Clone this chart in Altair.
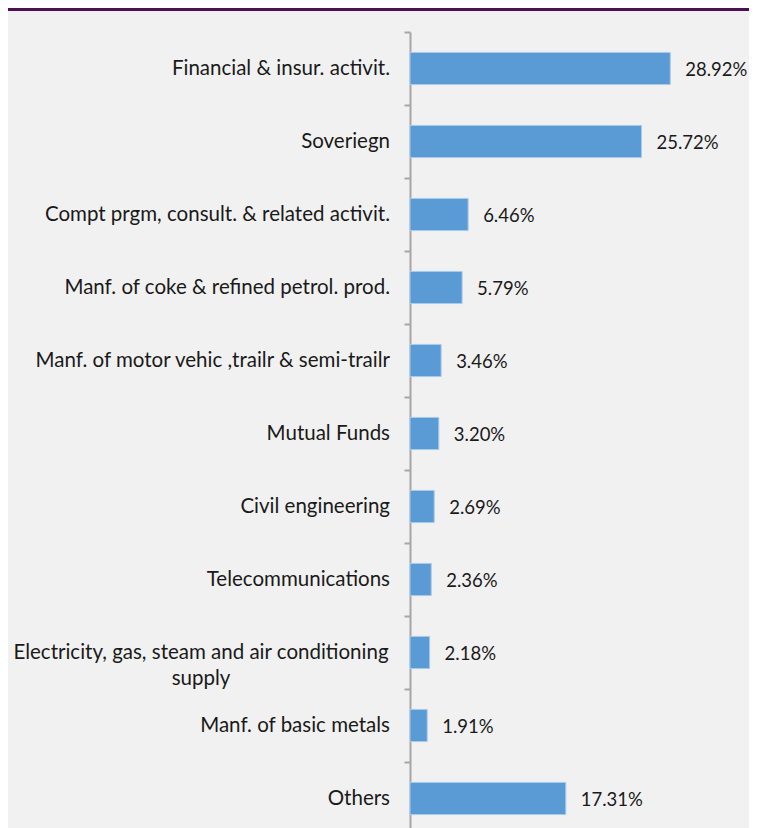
import altair as alt
import pandas as pd

categories = [
    "Financial & insur. activit.",
    "Soveriegn",
    "Compt prgm, consult. & related activit.",
    "Manf. of coke & refined petrol. prod.",
    "Manf. of motor vehic ,trailr & semi-trailr",
    "Mutual Funds",
    "Civil engineering",
    "Telecommunications",
    "Electricity, gas, steam and air conditioning|supply",
    "Manf. of basic metals",
    "Others",
]
values = [28.92, 25.72, 6.46, 5.79, 3.46, 3.20, 2.69, 2.36, 2.18, 1.91, 17.31]

df = pd.DataFrame({"category": categories, "value": values})

FONT = "Lato"
TEXT = "#1a1a1a"
AXIS = "#a6a6a6"
CAT_SIZE = 20.5
VAL_SIZE = 18.5

y = alt.Y(
    "category:N",
    sort=categories,
    title=None,
    scale=alt.Scale(paddingInner=0.56, paddingOuter=0.28),
    axis=alt.Axis(
        domainColor=AXIS,
        domainWidth=2,
        tickColor=AXIS,
        tickWidth=2,
        tickSize=6,
        tickOffset=-36.5,
        labels=False,
    ),
)
x = alt.X("value:Q", scale=alt.Scale(domain=[0, 30]), axis=None)

bars = alt.Chart(df).mark_bar(color="#5b9bd5", stroke="#a9cbeb", strokeWidth=1).encode(x=x, y=y)

values_text = (
    alt.Chart(df)
    .transform_calculate(lbl="format(datum.value, '.2f') + '%'")
    .mark_text(align="left", baseline="middle", dx=15, dy=1, font=FONT, fontSize=VAL_SIZE, color=TEXT)
    .encode(x=x, y=y, text="lbl:N")
)

single = (
    alt.Chart(df)
    .transform_filter("indexof(datum.category, '|') < 0")
    .mark_text(align="right", baseline="middle", font=FONT, fontSize=CAT_SIZE, color=TEXT)
    .encode(x=alt.value(-20), y=y, text="category:N")
)

multi = (
    alt.Chart(df)
    .transform_filter("indexof(datum.category, '|') >= 0")
    .mark_text(align="center", baseline="middle", font=FONT, fontSize=CAT_SIZE, color=TEXT,
               lineBreak="|", lineHeight=26)
    .encode(x=alt.value(-209), y=y, text="category:N")
)

top = (
    alt.Chart(pd.DataFrame({"a": [0]}))
    .mark_rule(color="#4a1050", strokeWidth=3)
    .encode(x=alt.value(-402), x2=alt.value(339), y=alt.value(-22.5))
)

chart = (
    alt.layer(bars, values_text, single, multi, top)
    .properties(
        width=270,
        height=803,
        autosize=alt.AutoSizeParams(type="none"),
        padding={"left": 402, "top": 24, "right": 69, "bottom": 0},
        background="#f1f1f1",
    )
    .configure_view(stroke=None)
)

chart.save("out.html", embed_options={"renderer": "svg", "actions": False})
